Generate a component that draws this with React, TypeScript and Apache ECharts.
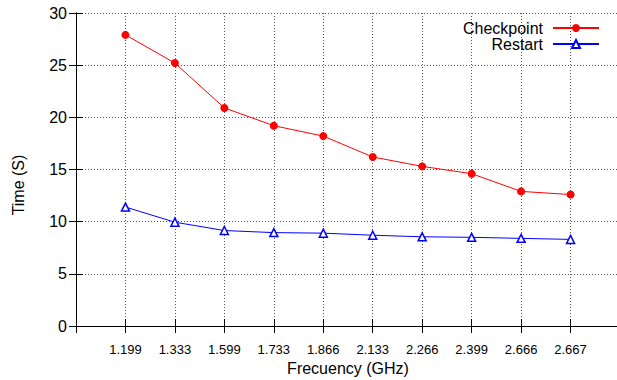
import React, { useEffect, useRef } from "react";
import * as echarts from "echarts";

const categories = ["1.199", "1.333", "1.599", "1.733", "1.866", "2.133", "2.266", "2.399", "2.666", "2.667"];
const checkpoint = [27.9, 25.2, 20.9, 19.2, 18.2, 16.2, 15.3, 14.6, 12.9, 12.6];
const restart = [11.4, 9.95, 9.15, 8.95, 8.9, 8.7, 8.55, 8.5, 8.4, 8.3];
const yTicks = [0, 5, 10, 15, 20, 25, 30];

const FONT = "Liberation Sans, Arial, Helvetica, sans-serif";

export default function App() {
  const ref = useRef<HTMLDivElement>(null);
  useEffect(() => {
    if (!ref.current) return;
    const chart = echarts.init(ref.current, undefined, { renderer: "svg" });
    const gridLine = { show: true, lineStyle: { color: "#555", type: [1, 2] as any, width: 1 } };
    const axisLine = { show: true, lineStyle: { color: "#000", width: 1 } };
    const inTick = { show: true, inside: true, length: 7, lineStyle: { color: "#000", width: 1 } };
    chart.setOption({
      animation: false,
      backgroundColor: "#fff",
      textStyle: { fontFamily: FONT },
      grid: { left: 76, right: -3, top: 13, bottom: 54, containLabel: false, outerBoundsMode: "none" },
      legend: {
        orient: "vertical",
        right: 17,
        top: 20,
        padding: 0,
        align: "right",
        itemWidth: 46,
        itemHeight: 10,
        itemGap: 0,
        textStyle: { fontSize: 16, color: "#000", fontFamily: FONT, padding: [0, 5, 0, 0] },
        data: ["Checkpoint", "Restart"],
      },
      graphic: [
        {
          type: "text",
          x: 18,
          y: 185,
          rotation: Math.PI / 2,
          style: { text: "Time (S)", fontSize: 16, fontFamily: FONT, fill: "#000", align: "center", verticalAlign: "middle" },
        },
      ],
      xAxis: [
        {
          type: "value",
          min: 0,
          max: categories.length + 1,
          interval: 1,
          position: "bottom",
          name: "Frecuency (GHz)",
          nameLocation: "middle",
          nameGap: 33,
          nameTextStyle: { fontSize: 16, color: "#000", fontFamily: FONT },
          axisLine,
          axisTick: inTick,
          splitLine: gridLine,
          axisLabel: {
            margin: 17,
            fontSize: 13,
            color: "#000",
            fontFamily: FONT,
            formatter: (v: number) => (v >= 1 && v <= categories.length ? categories[v - 1] : ""),
          },
        },
        {
          type: "value",
          min: 0,
          max: categories.length + 1,
          interval: 1,
          position: "top",
          axisLine,
          axisTick: inTick,
          axisLabel: { show: false },
          splitLine: { show: false },
        },
      ],
      yAxis: [
        {
          type: "value",
          min: yTicks[0],
          max: yTicks[yTicks.length - 1],
          interval: 5,
          position: "left",
          axisLine,
          axisTick: inTick,
          splitLine: gridLine,
          axisLabel: { margin: 9, fontSize: 16, color: "#000", fontFamily: FONT },
        },
        {
          type: "value",
          min: yTicks[0],
          max: yTicks[yTicks.length - 1],
          interval: 5,
          position: "right",
          axisLine,
          axisTick: inTick,
          axisLabel: { show: false },
          splitLine: { show: false },
        },
      ],
      series: [
        {
          name: "Checkpoint",
          type: "line",
          data: checkpoint.map((v, i) => [i + 1, v]),
          lineStyle: { color: "#ff0000", width: 1 },
          itemStyle: { color: "#ff0000" },
          symbol: "circle",
          symbolSize: 8,
        },
        {
          name: "Restart",
          type: "line",
          data: restart.map((v, i) => [i + 1, v]),
          lineStyle: { color: "#0000ff", width: 1 },
          itemStyle: { color: "#fff", borderColor: "#0000ff", borderWidth: 1.5 },
          symbol: "triangle",
          symbolSize: 8,
        },
      ],
    });
    return () => chart.dispose();
  }, []);
  return <div ref={ref} style={{ position: "absolute", left: 0, top: 0, width: 617, height: 380 }} />;
}
